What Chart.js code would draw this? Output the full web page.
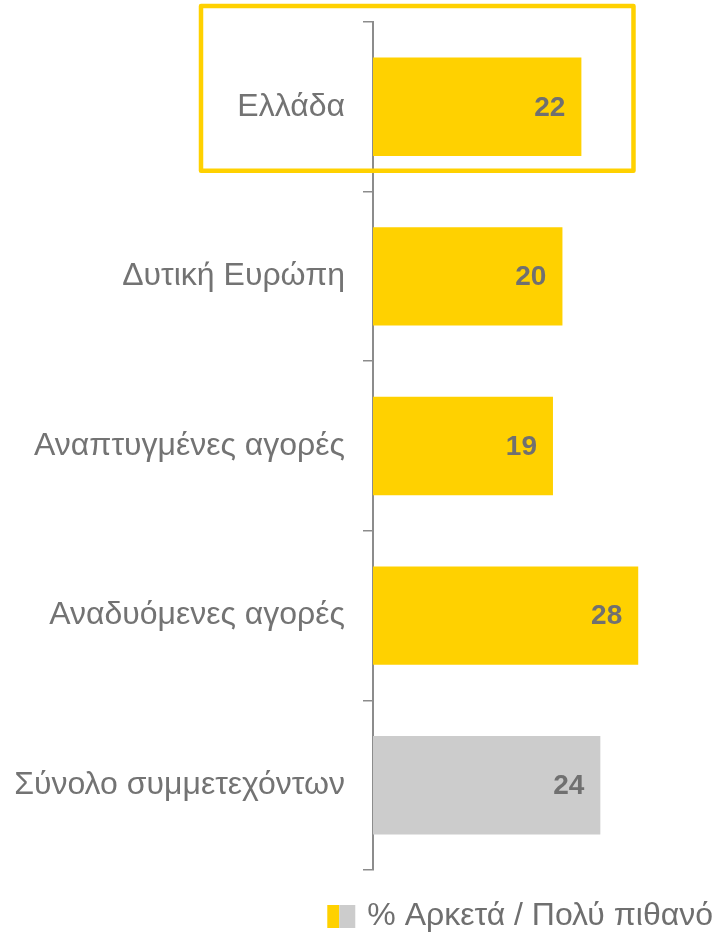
<!DOCTYPE html>
<html lang="el">
<head>
<meta charset="UTF-8" />
<title>Αρκετά / Πολύ πιθανό</title>
<script src="https://cdn.jsdelivr.net/npm/chart.js"></script>
<style>
  html, body { margin: 0; padding: 0; background: #ffffff; }
  #wrap { width: 715px; height: 933px; }
</style>
</head>
<body>
<div id="wrap"><canvas id="chart" width="715" height="933"></canvas></div>
<script>
const categories = ["Ελλάδα", "Δυτική Ευρώπη", "Αναπτυγμένες αγορές", "Αναδυόμενες αγορές", "Σύνολο συμμετεχόντων"];
const values = [22, 20, 19, 28, 24];
const barColors = ["#FFD100", "#FFD100", "#FFD100", "#FFD100", "#CCCCCC"];
const seriesLabel = "% Αρκετά / Πολύ πιθανό";

const FONT = "'Liberation Sans', Arial, sans-serif";

// value labels inside the bar ends
const valueLabels = {
  id: "valueLabels",
  afterDatasetsDraw(chart) {
    const ctx = chart.ctx;
    const meta = chart.getDatasetMeta(0);
    ctx.save();
    ctx.font = "bold 28px " + FONT;
    ctx.fillStyle = "#707070";
    ctx.textAlign = "right";
    ctx.textBaseline = "middle";
    meta.data.forEach((bar, i) => {
      ctx.fillText(values[i], bar.x - 16, bar.y + 1);
    });
    ctx.restore();
  }
};

// yellow frame round the first row (Ελλάδα)
const highlight = {
  id: "highlight",
  afterDraw(chart) {
    const ctx = chart.ctx;
    const area = chart.chartArea;
    const bar = chart.getDatasetMeta(0).data[0];
    ctx.save();
    ctx.strokeStyle = "#FFD100";
    ctx.lineWidth = 4.5;
    ctx.lineJoin = "round";
    const left = area.left - 172;
    const top = area.top - 16;
    const right = chart.scales.x.getPixelForValue(27.5);
    const bottom = bar.y + 64;
    ctx.beginPath();
    ctx.rect(left, top, right - left, bottom - top);
    ctx.stroke();
    ctx.restore();
  }
};

// legend with split yellow/grey swatch
const legendBox = {
  id: "legendBox",
  afterDraw(chart) {
    const ctx = chart.ctx;
    const w = chart.width;
    ctx.save();
    ctx.font = "32px " + FONT;
    ctx.fillStyle = "#6f6f6f";
    ctx.textAlign = "right";
    ctx.textBaseline = "middle";
    const y = chart.chartArea.bottom + 46;
    ctx.fillText(seriesLabel, w - 2, y);
    const tw = ctx.measureText(seriesLabel).width;
    const sx = w - 2 - tw - 40;
    ctx.fillStyle = barColors[0];
    ctx.fillRect(sx, y - 11, 12, 23);
    ctx.fillStyle = barColors[4];
    ctx.fillRect(sx + 12, y - 11, 16, 23);
    ctx.restore();
  }
};

new Chart(document.getElementById("chart"), {
  type: "bar",
  data: {
    labels: categories,
    datasets: [{
      label: seriesLabel,
      data: values,
      backgroundColor: barColors,
      borderWidth: 0,
      barPercentage: 0.58,
      categoryPercentage: 1.0
    }]
  },
  options: {
    indexAxis: "y",
    responsive: false,
    animation: false,
    layout: { padding: { top: 22, bottom: 63, right: 1, left: 0 } },
    scales: {
      x: {
        display: false,
        min: 0,
        max: 36
      },
      y: {
        afterFit(scale) {
          scale.width = 373;
          scale.paddingTop = 0;
          scale.paddingBottom = 0;
        },
        grid: {
          drawOnChartArea: false,
          drawTicks: true,
          tickLength: 10,
          color: "#8c8c8c",
          lineWidth: 1.5
        },
        border: { display: true, color: "#8c8c8c", width: 2 },
        ticks: {
          color: "#737373",
          padding: 18,
          font: { family: FONT, size: 32 }
        }
      }
    },
    plugins: {
      legend: { display: false },
      tooltip: { enabled: false }
    }
  },
  plugins: [valueLabels, highlight, legendBox]
});
</script>
</body>
</html>
